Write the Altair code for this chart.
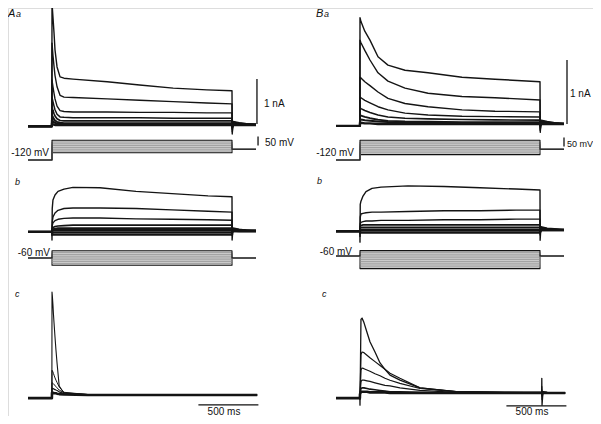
import altair as alt
import pandas as pd

# ---------------- layout constants (reference pixels) ----------------
M = 8                      # page margin
W, H = 585, 408            # drawing area = window minus both page margins
PX_PER_MS = 0.12           # 500 ms = 60 px
COL_X0 = {"A": 52, "B": 360}          # step onset
ROW_Y0 = {("A", "a"): 125, ("A", "b"): 231, ("A", "c"): 395,
          ("B", "a"): 124, ("B", "b"): 230, ("B", "c"): 393}  # zero-current level
PX_PER_NA = {"A": 45, "B": 64}
PX_PER_MV = 0.18
V_REF = {("A", "a"): (-120, 160), ("A", "b"): (-60, 258),
         ("B", "a"): (-120, 160), ("B", "b"): (-60, 256)}

# ---------------- data: currents (nA) vs time (ms) ----------------
T_AA = [-200, -1, 0, 8, 17, 25, 42, 67, 100, 175, 460, 730, 1010, 1290, 1500, 1502, 1510, 1560, 1620, 1700]
AA_1 = [-0.03, -0.03, 2.71, 2.4, 2.04, 1.67, 1.29, 1.07, 1.04, 1.02, 0.96, 0.89, 0.82, 0.78, 0.76, -0.2, 0.08, 0.05, 0.03, 0.02]
AA_2 = [-0.03, -0.03, 1.82, 1.55, 1.3, 1.1, 0.85, 0.66, 0.62, 0.61, 0.58, 0.55, 0.52, 0.49, 0.47, -0.15, 0.06, 0.04, 0.03, 0.02]
AA_3 = [-0.03, -0.03, 1.0, 0.85, 0.7, 0.58, 0.42, 0.32, 0.30, 0.29, 0.29, 0.28, 0.28, 0.27, 0.27, -0.1, 0.05, 0.04, 0.02, 0.01]
AA_4 = [-0.03, -0.03, 0.62, 0.52, 0.42, 0.34, 0.24, 0.18, 0.17, 0.16, 0.16, 0.16, 0.15, 0.15, 0.15, -0.08, 0.04, 0.03, 0.02, 0.01]
AA_5 = [-0.03, -0.03, 0.40, 0.32, 0.25, 0.20, 0.14, 0.10, 0.09, 0.09, 0.09, 0.09, 0.09, 0.09, 0.09, -0.05, 0.03, 0.02, 0.01, 0.0]
AA_6 = [-0.03, -0.03, 0.22, 0.17, 0.13, 0.10, 0.07, 0.05, 0.04, 0.04, 0.04, 0.04, 0.04, 0.04, 0.04, -0.03, 0.02, 0.01, 0.0, 0.0]
AA_7 = [-0.03, -0.03, 0.11, 0.08, 0.06, 0.05, 0.03, 0.02, 0.02, 0.02, 0.02, 0.02, 0.02, 0.02, 0.02, -0.02, 0.01, 0.0, 0.0, 0.0]
AA_8 = [-0.03, -0.03, 0.03, 0.02, 0.01, 0.0, 0.0, 0.0, 0.0, 0.0, 0.0, 0.0, 0.0, 0.0, 0.0, -0.01, 0.0, 0.0, 0.0, 0.0]

T_BA = [-200, -1, 0, 8, 40, 83, 150, 233, 375, 567, 850, 1125, 1500, 1502, 1510, 1560, 1620, 1700]
BA_1 = [-0.03, -0.03, 1.66, 1.6, 1.45, 1.31, 1.05, 0.92, 0.84, 0.80, 0.73, 0.70, 0.66, -0.13, 0.06, 0.04, 0.02, 0.01]
BA_2 = [-0.03, -0.03, 1.31, 1.27, 1.15, 1.0, 0.8, 0.67, 0.56, 0.48, 0.43, 0.41, 0.375, -0.1, 0.05, 0.03, 0.02, 0.01]
BA_3 = [-0.03, -0.03, 0.73, 0.72, 0.66, 0.60, 0.50, 0.40, 0.32, 0.27, 0.22, 0.20, 0.19, -0.08, 0.04, 0.03, 0.01, 0.01]
BA_4 = [-0.03, -0.03, 0.42, 0.41, 0.37, 0.33, 0.27, 0.22, 0.17, 0.14, 0.12, 0.115, 0.11, -0.05, 0.03, 0.02, 0.01, 0.0]
BA_5 = [-0.03, -0.03, 0.25, 0.24, 0.21, 0.18, 0.14, 0.11, 0.09, 0.08, 0.07, 0.065, 0.06, -0.03, 0.02, 0.01, 0.0, 0.0]
BA_6 = [-0.03, -0.03, 0.14, 0.13, 0.11, 0.09, 0.07, 0.05, 0.04, 0.035, 0.03, 0.03, 0.03, -0.02, 0.01, 0.0, 0.0, 0.0]
BA_7 = [-0.03, -0.03, 0.08, 0.07, 0.06, 0.05, 0.04, 0.03, 0.02, 0.02, 0.015, 0.015, 0.015, -0.01, 0.0, 0.0, 0.0, 0.0]
BA_8 = [-0.03, -0.03, 0.02, 0.02, 0.01, 0.01, 0.0, 0.0, 0.0, 0.0, 0.0, 0.0, 0.0, 0.0, 0.0, 0.0, 0.0, 0.0]

T_AB = [-200, -1, 0, 2, 8, 25, 50, 100, 175, 400, 700, 1000, 1300, 1500, 1501, 1508, 1560, 1620, 1700]
AB_1 = [-0.02, -0.02, -0.2, 0.5, 0.69, 0.8, 0.88, 0.93, 0.97, 0.96, 0.88, 0.83, 0.78, 0.76, -0.2, 0.07, 0.04, 0.02, 0.01]
AB_2 = [-0.02, -0.02, -0.1, 0.2, 0.31, 0.4, 0.46, 0.5, 0.51, 0.51, 0.5, 0.47, 0.44, 0.42, -0.1, 0.05, 0.03, 0.02, 0.01]
AB_3 = [-0.02, -0.02, -0.05, 0.12, 0.18, 0.23, 0.26, 0.28, 0.29, 0.29, 0.27, 0.26, 0.25, 0.24, -0.05, 0.04, 0.02, 0.01, 0.0]
AB_4 = [-0.02, -0.02, -0.03, 0.06, 0.08, 0.10, 0.11, 0.12, 0.13, 0.13, 0.13, 0.13, 0.13, 0.13, -0.03, 0.03, 0.02, 0.01, 0.0]
AB_5 = [-0.02, -0.02, -0.02, 0.03, 0.04, 0.05, 0.06, 0.06, 0.06, 0.06, 0.06, 0.06, 0.06, 0.06, -0.02, 0.02, 0.01, 0.0, 0.0]
AB_6 = [-0.02, -0.02, -0.02, 0.01, 0.02, 0.02, 0.02, 0.02, 0.02, 0.02, 0.02, 0.02, 0.02, 0.02, -0.02, 0.01, 0.0, 0.0, 0.0]
AB_7 = [-0.02, -0.02, -0.02, -0.03, -0.03, -0.03, -0.03, -0.03, -0.03, -0.03, -0.03, -0.03, -0.03, -0.03, -0.02, 0.0, 0.0, 0.0, 0.0]
AB_8 = [-0.02, -0.02, -0.02, -0.07, -0.08, -0.08, -0.08, -0.08, -0.08, -0.08, -0.08, -0.08, -0.08, -0.08, -0.02, 0.0, 0.0, 0.0, 0.0]

T_BB = [-200, -1, 0, 2, 8, 25, 50, 100, 175, 400, 700, 1000, 1300, 1500, 1501, 1508, 1560, 1620, 1700]
BB_1 = [-0.02, -0.02, -0.19, 0.4, 0.45, 0.53, 0.6, 0.65, 0.67, 0.69, 0.68, 0.66, 0.64, 0.625, -0.16, 0.05, 0.03, 0.02, 0.01]
BB_2 = [-0.02, -0.02, -0.1, 0.2, 0.25, 0.26, 0.27, 0.28, 0.28, 0.29, 0.30, 0.30, 0.31, 0.31, -0.08, 0.04, 0.02, 0.01, 0.0]
BB_3 = [-0.02, -0.02, -0.05, 0.1, 0.12, 0.13, 0.14, 0.14, 0.15, 0.15, 0.16, 0.16, 0.17, 0.17, -0.04, 0.03, 0.02, 0.01, 0.0]
BB_4 = [-0.02, -0.02, -0.03, 0.06, 0.07, 0.08, 0.08, 0.08, 0.08, 0.08, 0.08, 0.08, 0.08, 0.08, -0.03, 0.02, 0.01, 0.0, 0.0]
BB_5 = [-0.02, -0.02, -0.02, 0.03, 0.04, 0.04, 0.04, 0.04, 0.04, 0.04, 0.04, 0.04, 0.04, 0.04, -0.02, 0.01, 0.0, 0.0, 0.0]
BB_6 = [-0.02, -0.02, -0.02, 0.0, 0.0, 0.0, 0.0, 0.0, 0.0, 0.0, 0.0, 0.0, 0.0, 0.0, -0.02, 0.0, 0.0, 0.0, 0.0]
BB_7 = [-0.02, -0.02, -0.02, -0.04, -0.04, -0.04, -0.04, -0.04, -0.04, -0.04, -0.04, -0.04, -0.04, -0.04, -0.02, 0.0, 0.0, 0.0, 0.0]

T_AC = [-200, -1, 0, 3, 8, 12, 17, 25, 33, 42, 60, 100, 300, 700, 1100, 1500, 1710]
AC_1 = [-0.07, -0.07, 2.29, 2.2, 2.0, 1.8, 1.6, 1.29, 1.0, 0.71, 0.2, 0.04, 0.01, 0.0, 0.0, 0.0, 0.0]
AC_2 = [-0.07, -0.07, 0.55, 0.54, 0.51, 0.48, 0.44, 0.38, 0.33, 0.28, 0.18, 0.06, 0.01, 0.0, 0.0, 0.0, 0.0]
AC_3 = [-0.07, -0.07, 0.27, 0.27, 0.26, 0.25, 0.23, 0.21, 0.19, 0.16, 0.11, 0.05, 0.01, 0.0, 0.0, 0.0, 0.0]
AC_4 = [-0.07, -0.07, 0.15, 0.15, 0.14, 0.14, 0.13, 0.12, 0.11, 0.10, 0.07, 0.03, 0.0, 0.0, 0.0, 0.0, 0.0]
AC_5 = [-0.07, -0.07, 0.05, 0.05, 0.05, 0.05, 0.04, 0.04, 0.04, 0.03, 0.02, 0.01, 0.0, 0.0, 0.0, 0.0, 0.0]

T_BC = [-200, -1, 0, 8, 17, 33, 58, 83, 125, 167, 208, 250, 333, 500, 800, 1200, 1514, 1515, 1517, 1525, 1560, 1710]
BC_1 = [-0.08, -0.08, -0.19, 1.15, 1.17, 1.1, 0.95, 0.8, 0.64, 0.47, 0.37, 0.28, 0.2, 0.08, 0.02, 0.01, 0.01, 0.23, -0.19, 0.02, 0.01, 0.0]
BC_2 = [-0.08, -0.08, -0.1, 0.6, 0.64, 0.63, 0.59, 0.55, 0.49, 0.43, 0.37, 0.31, 0.23, 0.08, 0.02, 0.01, 0.01, 0.1, -0.1, 0.02, 0.01, 0.0]
BC_3 = [-0.08, -0.08, -0.05, 0.36, 0.39, 0.38, 0.36, 0.34, 0.30, 0.27, 0.23, 0.20, 0.15, 0.07, 0.02, 0.01, 0.01, 0.05, -0.05, 0.01, 0.0, 0.0]
BC_4 = [-0.08, -0.08, -0.03, 0.18, 0.2, 0.2, 0.19, 0.18, 0.16, 0.14, 0.12, 0.11, 0.08, 0.04, 0.01, 0.01, 0.0, 0.03, -0.03, 0.0, 0.0, 0.0]
BC_5 = [-0.08, -0.08, -0.02, 0.07, 0.08, 0.08, 0.07, 0.06, 0.05, 0.04, 0.03, 0.02, 0.02, 0.01, 0.0, 0.0, 0.0, 0.01, -0.01, 0.0, 0.0, 0.0]
BC_6 = [-0.08, -0.08, -0.02, 0.02, 0.02, 0.02, 0.02, 0.01, 0.01, 0.01, 0.01, 0.0, 0.0, 0.0, 0.0, 0.0, 0.0, 0.0, 0.0, 0.0, 0.0, 0.0]

# ---------------- data: voltage protocols (mV) ----------------
T_PROTO = [-200, 0, 0, 1500, 1500, 1700]
STEPS_AA = [-80, -70, -60, -50, -40, -30, -20, -10]
STEPS_BA = [-90, -80, -70, -60, -50, -40, -30, -20, -10]
STEPS_AB = [-100, -90, -80, -70, -60, -50, -40, -30, -20]
STEPS_BB = [-130, -120, -110, -100, -90, -80, -70, -60, -50, -40, -30]
HOLD_PRE = {("A", "a"): -120, ("A", "b"): -60, ("B", "a"): -120, ("B", "b"): -60}
HOLD_POST = {("A", "a"): -60, ("A", "b"): -60, ("B", "a"): -60, ("B", "b"): -60}

# ---------------- helpers ----------------
def xpx(col, t):
    return COL_X0[col] - M + t * PX_PER_MS

def ypx_i(col, row, v):
    return ROW_Y0[(col, row)] - M - v * PX_PER_NA[col]

def ypx_v(col, row, mv):
    v0, y0 = V_REF[(col, row)]
    return y0 - M - (mv - v0) * PX_PER_MV

line_rows = []

def add_traces(col, row, times, traces, widths):
    for k, (vals, w) in enumerate(zip(traces, widths)):
        for i, (t, v) in enumerate(zip(times, vals)):
            line_rows.append(dict(id=f"{col}{row}i{k}", i=i, px=xpx(col, t),
                                  py=ypx_i(col, row, v), sw=w, c="#141414"))

add_traces("A", "a", T_AA, [AA_1, AA_2, AA_3, AA_4, AA_5, AA_6, AA_7, AA_8], [1.4, 1.4, 1.4, 1.5, 1.7, 2.0, 2.2, 2.4])
add_traces("B", "a", T_BA, [BA_1, BA_2, BA_3, BA_4, BA_5, BA_6, BA_7, BA_8], [1.4, 1.4, 1.4, 1.4, 1.6, 1.8, 2.0, 2.4])
add_traces("A", "b", T_AB, [AB_1, AB_2, AB_3, AB_4, AB_5, AB_6, AB_7, AB_8], [1.4, 1.4, 1.4, 1.6, 2.0, 2.4, 2.4, 2.4])
add_traces("B", "b", T_BB, [BB_1, BB_2, BB_3, BB_4, BB_5, BB_6, BB_7], [1.4, 1.4, 1.4, 1.6, 2.0, 2.4, 2.4])
add_traces("A", "c", T_AC, [AC_1, AC_2, AC_3, AC_4, AC_5], [1.1, 1.0, 1.0, 1.2, 2.6])
add_traces("B", "c", T_BC, [BC_1, BC_2, BC_3, BC_4, BC_5, BC_6], [1.3, 1.2, 1.2, 1.3, 1.6, 2.6])

rect_rows = []

def add_proto(col, row, steps):
    pre, post = HOLD_PRE[(col, row)], HOLD_POST[(col, row)]
    rect_rows.append(dict(x=xpx(col, 0), x2=xpx(col, 1500),
                          y=ypx_v(col, row, max(steps)), y2=ypx_v(col, row, min(steps))))
    for k, s in enumerate(steps):
        edge = k == 0 or k == len(steps) - 1
        vals = [pre, pre, s, s, post, post]
        for i, (t, v) in enumerate(zip(T_PROTO, vals)):
            line_rows.append(dict(id=f"{col}{row}v{k}", i=i, px=xpx(col, t),
                                  py=ypx_v(col, row, v), sw=1.1 if edge else 0.8,
                                  c="#111111" if edge else "#8e8e8e"))

add_proto("A", "a", STEPS_AA)
add_proto("B", "a", STEPS_BA)
add_proto("A", "b", STEPS_AB)
add_proto("B", "b", STEPS_BB)

lines = pd.DataFrame(line_rows)
rects = pd.DataFrame(rect_rows)

# ---------------- scale bars ----------------
bar_rows = [
    # 1 nA bars
    dict(x=xpx("A", 1708), x2=xpx("A", 1708), y=ypx_i("A", "a", 0.02), y2=ypx_i("A", "a", 1.02)),
    dict(x=xpx("B", 1725), x2=xpx("B", 1725), y=ypx_i("B", "a", 0.0), y2=ypx_i("B", "a", 1.0)),
    # 50 mV bars
    dict(x=xpx("A", 1717), x2=xpx("A", 1717), y=ypx_v("A", "a", -40), y2=ypx_v("A", "a", 10)),
    dict(x=xpx("B", 1700), x2=xpx("B", 1700), y=ypx_v("B", "a", -45), y2=ypx_v("B", "a", 5)),
    # 500 ms bars
    dict(x=xpx("A", 1220), x2=xpx("A", 1720), y=ypx_i("A", "c", -0.22), y2=ypx_i("A", "c", -0.22)),
    dict(x=xpx("B", 1220), x2=xpx("B", 1720), y=ypx_i("B", "c", -0.2), y2=ypx_i("B", "c", -0.2)),
]
bars = pd.DataFrame(bar_rows)

# ---------------- text ----------------
LABELS_RIGHT = [("-120 mV", 49, 156), ("-120 mV", 354, 156), ("-60 mV", 50, 256), ("-60 mV", 352, 255)]
LABELS_LEFT = [("1 nA", 264, 107), ("1 nA", 570, 97), ("50 mV", 265, 146)]
LABELS_EDGE = [("50 mV", 567, 147)]
LABELS_CENTER = [("500 ms", 224, 415), ("500 ms", 532, 415)]
PANEL_BIG = [("A", 8, 17), ("B", 316, 17)]
PANEL_SMALL = [("a", 16, 17), ("a", 324, 17), ("b", 15, 185), ("b", 317, 184), ("c", 15, 297), ("c", 322, 297)]

def tdf(items):
    return pd.DataFrame([dict(label=s, x=x - M, y=y - M) for s, x, y in items])

xs = alt.Scale(domain=[0, W], range=[0, W], nice=False, zero=False)
ys = alt.Scale(domain=[0, H], range=[0, H], nice=False, zero=False)

rect_layer = alt.Chart(rects).mark_rect(color="#d6d6d6").encode(
    x=alt.X("x:Q", scale=xs, axis=None), x2="x2:Q",
    y=alt.Y("y:Q", scale=ys, axis=None), y2="y2:Q")

line_layer = alt.Chart(lines).mark_line(strokeJoin="round", strokeCap="butt").encode(
    x=alt.X("px:Q", scale=xs, axis=None), y=alt.Y("py:Q", scale=ys, axis=None),
    detail="id:N", order="i:Q",
    color=alt.Color("c:N", scale=None),
    strokeWidth=alt.StrokeWidth("sw:Q", scale=None))

bar_layer = alt.Chart(bars).mark_rule(color="#111111", strokeWidth=1.3).encode(
    x=alt.X("x:Q", scale=xs, axis=None), x2="x2:Q",
    y=alt.Y("y:Q", scale=ys, axis=None), y2="y2:Q")

FONT = "Liberation Sans"

def text_layer(items, align, size, style="normal"):
    return alt.Chart(tdf(items)).mark_text(align=align, baseline="alphabetic", font=FONT,
                                           fontSize=size, fontStyle=style, color="#111111").encode(
        x=alt.X("x:Q", scale=xs, axis=None), y=alt.Y("y:Q", scale=ys, axis=None), text="label:N")

chart = alt.layer(
    rect_layer, line_layer, bar_layer,
    text_layer(LABELS_RIGHT, "right", 10),
    text_layer(LABELS_LEFT, "left", 10),
    text_layer(LABELS_EDGE, "left", 9),
    text_layer(LABELS_CENTER, "center", 10),
    text_layer(PANEL_BIG, "left", 11, "italic"),
    text_layer(PANEL_SMALL, "left", 9, "italic"),
).properties(width=W, height=H, autosize=alt.AutoSizeParams(type="none"), padding=0
).configure_view(stroke=None).configure(background="white")

chart.save("out.html", embed_options={"renderer": "svg", "actions": False})
